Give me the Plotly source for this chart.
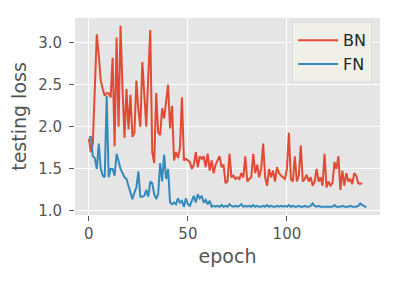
import plotly.graph_objects as go

bn_loss = [1.86, 1.70, 1.80, 2.50, 3.10, 2.85, 2.55, 2.45, 2.37, 2.40,
           2.40, 2.35, 2.82, 1.77, 3.06, 2.00, 3.20, 2.45, 1.87, 2.45,
           1.97, 2.38, 1.88, 1.93, 2.55, 2.20, 2.00, 2.77, 2.30, 2.00,
           2.60, 3.15, 1.70, 1.57, 2.40, 1.93, 1.90, 2.22, 2.10, 2.30,
           2.50, 1.98, 2.25, 1.60, 1.70, 1.63, 1.75, 2.35, 1.60, 1.62,
           1.60, 1.58, 1.50, 1.55, 1.70, 1.52, 1.65, 1.62, 1.65, 1.52,
           1.68, 1.48, 1.60, 1.45, 1.55, 1.60, 1.65, 1.52, 1.55, 1.33,
           1.35, 1.68, 1.40, 1.42, 1.38, 1.40, 1.38, 1.45, 1.40, 1.65,
           1.35, 1.38, 1.40, 1.68, 1.45, 1.55, 1.40, 1.50, 1.80, 1.40,
           1.30, 1.50, 1.40, 1.48, 1.35, 1.52, 1.45, 1.42, 1.40, 1.38,
           1.50, 1.93, 1.38, 1.35, 1.65, 1.35, 1.42, 1.78, 1.35, 1.38,
           1.43, 1.35, 1.40, 1.30, 1.35, 1.50, 1.35, 1.40, 1.30, 1.68,
           1.28, 1.35, 1.30, 1.33, 1.58, 1.50, 1.65, 1.25, 1.48, 1.30,
           1.45, 1.35, 1.38, 1.32, 1.45, 1.42, 1.33, 1.32, 1.33]

fn_loss = [1.88, 1.88, 1.65, 1.63, 1.50, 1.80, 1.50, 1.42, 1.40, 2.37,
           1.40, 1.50, 1.50, 1.42, 1.68, 1.58, 1.50, 1.45, 1.40, 1.38,
           1.30, 1.20, 1.14, 1.22, 1.28, 1.47, 1.17, 1.17, 1.18, 1.25,
           1.17, 1.35, 1.33, 1.20, 1.14, 1.20, 1.57, 1.35, 1.67, 1.38,
           1.50, 1.10, 1.08, 1.10, 1.08, 1.15, 1.10, 1.12, 1.05, 1.15,
           1.08, 1.06, 1.12, 1.18, 1.10, 1.20, 1.15, 1.18, 1.10, 1.13,
           1.08, 1.12, 1.05, 1.06, 1.05, 1.06, 1.05, 1.07, 1.05, 1.06,
           1.05, 1.08, 1.06, 1.05, 1.06, 1.05, 1.06, 1.08, 1.05, 1.06,
           1.05, 1.06, 1.05, 1.07, 1.05, 1.06, 1.05, 1.05, 1.06, 1.05,
           1.07, 1.05, 1.06, 1.05, 1.05, 1.06, 1.05, 1.06, 1.05, 1.06,
           1.05, 1.07, 1.05, 1.06, 1.05, 1.05, 1.06, 1.05, 1.05, 1.06,
           1.05, 1.05, 1.06, 1.09, 1.06, 1.05, 1.06, 1.05, 1.05, 1.05,
           1.05, 1.05, 1.05, 1.05, 1.07, 1.05, 1.05, 1.05, 1.06, 1.05,
           1.05, 1.05, 1.06, 1.05, 1.05, 1.05, 1.06, 1.09, 1.07, 1.06,
           1.04]

bn_epoch = list(range(len(bn_loss)))
fn_epoch = list(range(len(fn_loss)))

fig = go.Figure()
fig.add_trace(go.Scatter(x=bn_epoch, y=bn_loss, mode="lines", name="BN",
                         line=dict(color="#E24A33", width=2)))
fig.add_trace(go.Scatter(x=fn_epoch, y=fn_loss, mode="lines", name="FN",
                         line=dict(color="#348ABD", width=2)))

# page body adds an 8px margin, so the figure is drawn a bit smaller
axis_font = dict(family="DejaVu Sans", size=15, color="#555555")
title_font = dict(family="DejaVu Sans", size=19, color="#555555")
fig.update_layout(
    width=382, height=265,
    margin=dict(l=67, r=10, t=10, b=58),
    paper_bgcolor="white",
    plot_bgcolor="#E5E5E5",
    font=dict(family="DejaVu Sans", color="#555555"),
    showlegend=True,
    legend=dict(x=0.974, y=0.978, xanchor="right", yanchor="top",
                bgcolor="#F0F0E8", bordercolor="#E0E0DA", borderwidth=1,
                font=dict(family="DejaVu Sans", size=16, color="#262626"),
                itemwidth=40, tracegroupgap=2),
)
fig.update_xaxes(range=[-7, 147], tickvals=[0, 50, 100], showgrid=True,
                 gridcolor="white", gridwidth=1, zeroline=False,
                 ticks="outside", ticklen=5, tickcolor="#555555",
                 tickfont=axis_font, showline=False,
                 title=dict(text="epoch", font=title_font, standoff=7))
fig.update_yaxes(range=[0.952, 3.293], tickvals=[1.0, 1.5, 2.0, 2.5, 3.0],
                 tickformat=".1f", showgrid=True, gridcolor="white", gridwidth=1,
                 zeroline=False, ticks="outside", ticklen=5, tickcolor="#555555",
                 tickfont=axis_font, showline=False, ticklabelstandoff=4,
                 title=dict(text="testing loss", font=title_font, standoff=6))

fig.write_html("out.html")
